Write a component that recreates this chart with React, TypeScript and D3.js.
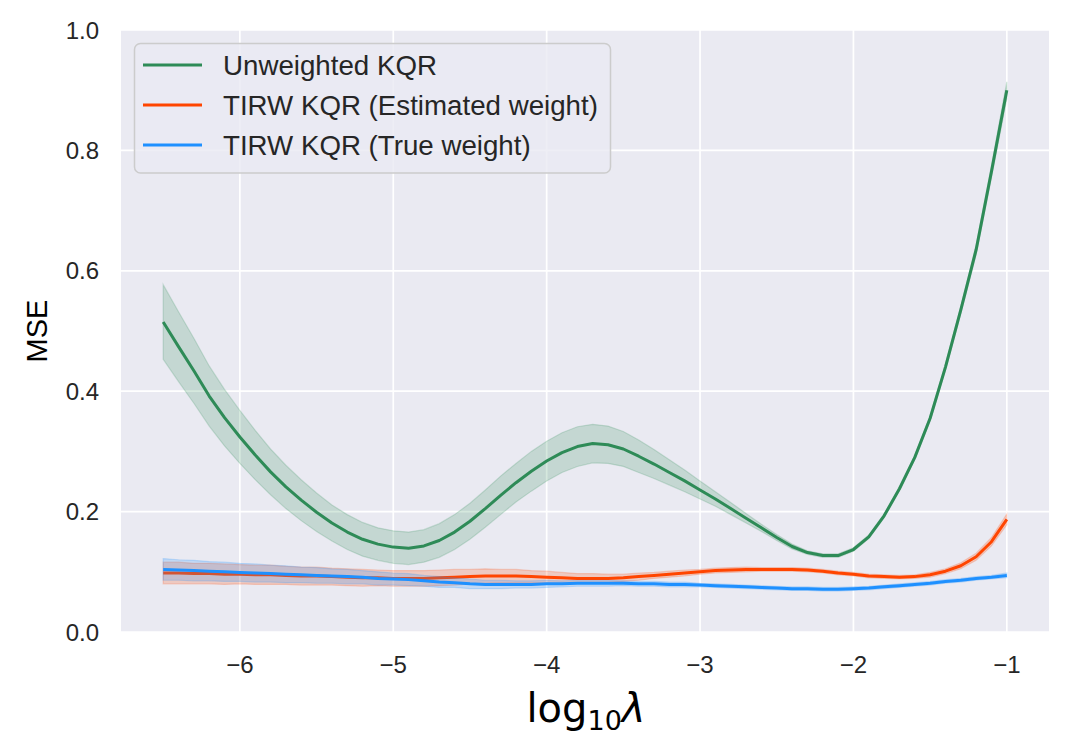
import React from "react";
import * as d3 from "d3";

const logLambda = [
  -6.5, -6.4, -6.3, -6.2, -6.1, -6.0, -5.9, -5.8, -5.7, -5.6,
  -5.5, -5.4, -5.3, -5.2, -5.1, -5.0, -4.9, -4.8, -4.7, -4.6,
  -4.5, -4.4, -4.3, -4.2, -4.1, -4.0, -3.9, -3.8, -3.7, -3.6,
  -3.5, -3.4, -3.3, -3.2, -3.1, -3.0, -2.9, -2.8, -2.7, -2.6,
  -2.5, -2.4, -2.3, -2.2, -2.1, -2.0, -1.9, -1.8, -1.7, -1.6,
  -1.5, -1.4, -1.3, -1.2, -1.1, -1.0,
];

const unweightedMean = [
  0.515, 0.474, 0.434, 0.392, 0.356, 0.324, 0.294, 0.266, 0.241, 0.219,
  0.199, 0.181, 0.166, 0.154, 0.146, 0.141, 0.139, 0.143, 0.152, 0.166,
  0.184, 0.205, 0.227, 0.248, 0.267, 0.284, 0.298, 0.308, 0.313, 0.311,
  0.304, 0.292, 0.279, 0.265, 0.251, 0.236, 0.221, 0.205, 0.189, 0.173,
  0.157, 0.142, 0.132, 0.127, 0.127, 0.137, 0.158, 0.193, 0.238, 0.29,
  0.355, 0.44, 0.535, 0.635, 0.765, 0.9,
];
const unweightedSpread = [
  0.062, 0.058, 0.054, 0.05, 0.047, 0.044, 0.041, 0.038, 0.036, 0.034,
  0.032, 0.03, 0.029, 0.028, 0.027, 0.027, 0.027, 0.027, 0.028, 0.029,
  0.03, 0.031, 0.032, 0.032, 0.033, 0.033, 0.033, 0.033, 0.032, 0.031,
  0.029, 0.027, 0.024, 0.021, 0.018, 0.015, 0.012, 0.01, 0.008, 0.006,
  0.005, 0.004, 0.003, 0.003, 0.003, 0.003, 0.003, 0.003, 0.003, 0.003,
  0.004, 0.005, 0.006, 0.008, 0.01, 0.014,
];

const estimatedMean = [
  0.098, 0.098, 0.097, 0.097, 0.096, 0.096, 0.095, 0.095, 0.094, 0.093,
  0.093, 0.092, 0.091, 0.09, 0.09, 0.089, 0.089, 0.089, 0.09, 0.091,
  0.092, 0.093, 0.093, 0.093, 0.092, 0.091, 0.09, 0.089, 0.089, 0.089,
  0.09, 0.092, 0.094, 0.096, 0.098, 0.1, 0.102, 0.103, 0.104, 0.104,
  0.104, 0.104, 0.103, 0.101, 0.098, 0.096, 0.093, 0.092, 0.091, 0.092,
  0.095, 0.101, 0.11, 0.125, 0.15, 0.187,
];
const estimatedSpread = [
  0.018, 0.018, 0.017, 0.017, 0.017, 0.016, 0.016, 0.016, 0.015, 0.015,
  0.015, 0.014, 0.014, 0.014, 0.013, 0.013, 0.013, 0.013, 0.013, 0.013,
  0.012, 0.012, 0.011, 0.011, 0.01, 0.01, 0.009, 0.008, 0.008, 0.007,
  0.006, 0.006, 0.005, 0.005, 0.005, 0.004, 0.004, 0.004, 0.004, 0.003,
  0.003, 0.003, 0.003, 0.003, 0.003, 0.003, 0.003, 0.003, 0.003, 0.003,
  0.004, 0.004, 0.005, 0.006, 0.007, 0.009,
];

const trueMean = [
  0.104, 0.103, 0.102, 0.101, 0.1, 0.099, 0.098, 0.097, 0.096, 0.095,
  0.094, 0.093, 0.092, 0.091, 0.089, 0.088, 0.087, 0.085, 0.083, 0.082,
  0.08, 0.079, 0.079, 0.079, 0.079, 0.08, 0.08, 0.081, 0.081, 0.081,
  0.081, 0.08, 0.08, 0.079, 0.079, 0.078, 0.077, 0.076, 0.075, 0.074,
  0.073, 0.072, 0.072, 0.071, 0.071, 0.072, 0.073, 0.075, 0.077, 0.079,
  0.081, 0.084, 0.086, 0.089, 0.091, 0.094,
];
const trueSpread = [
  0.018, 0.017, 0.017, 0.016, 0.016, 0.015, 0.015, 0.014, 0.014, 0.013,
  0.013, 0.012, 0.012, 0.011, 0.011, 0.01, 0.01, 0.009, 0.009, 0.008,
  0.008, 0.007, 0.007, 0.006, 0.006, 0.006, 0.005, 0.005, 0.005, 0.005,
  0.004, 0.004, 0.004, 0.004, 0.004, 0.003, 0.003, 0.003, 0.003, 0.003,
  0.003, 0.003, 0.003, 0.003, 0.003, 0.003, 0.003, 0.003, 0.003, 0.003,
  0.003, 0.003, 0.003, 0.003, 0.003, 0.004,
];

const seriesNames = [
  "Unweighted KQR",
  "TIRW KQR (Estimated weight)",
  "TIRW KQR (True weight)",
];
const seriesColors = ["#2e8b57", "#ff4500", "#1e90ff"];

const xTicks = [-6, -5, -4, -3, -2, -1];
const yTicks = [0.0, 0.2, 0.4, 0.6, 0.8, 1.0];

const W = 1070;
const H = 754;
const plot = { left: 121, right: 1049, top: 30, bottom: 632 };
const FONT = "'Liberation Sans', Arial, sans-serif";
const TEXT = "#262626";

export default function App() {
  const x = d3.scaleLinear().domain([-6.775, -0.725]).range([plot.left, plot.right]);
  const y = d3.scaleLinear().domain([0, 1]).range([plot.bottom, plot.top]);

  const series = [
    { mean: unweightedMean, spread: unweightedSpread },
    { mean: estimatedMean, spread: estimatedSpread },
    { mean: trueMean, spread: trueSpread },
  ];

  const line = d3
    .line<number>()
    .x((_, i) => x(logLambda[i]))
    .y((d) => y(d));

  const areaFor = (mean: number[], spread: number[]) =>
    d3
      .area<number>()
      .x((_, i) => x(logLambda[i]))
      .y0((d, i) => y(d - spread[i]))
      .y1((d, i) => y(d + spread[i]))(mean) || "";

  const fmtX = (v: number) => (v < 0 ? "\u2212" + Math.abs(v) : String(v));

  const legendRows = [65, 105, 145];

  return (
    <svg
      width={W}
      height={H}
      style={{ position: "absolute", left: 0, top: 0, background: "#ffffff" }}
    >
      <rect
        x={plot.left}
        y={plot.top}
        width={plot.right - plot.left}
        height={plot.bottom - plot.top}
        fill="#eaeaf2"
      />
      {xTicks.map((t) => (
        <line
          key={"gx" + t}
          x1={x(t)}
          x2={x(t)}
          y1={plot.top}
          y2={plot.bottom}
          stroke="#ffffff"
          strokeWidth={1.7}
        />
      ))}
      {yTicks.map((t) => (
        <line
          key={"gy" + t}
          x1={plot.left}
          x2={plot.right}
          y1={y(t)}
          y2={y(t)}
          stroke="#ffffff"
          strokeWidth={1.7}
        />
      ))}

      {series.map((s, k) => (
        <g key={"s" + k}>
          <path
            d={areaFor(s.mean, s.spread)}
            fill={seriesColors[k]}
            fillOpacity={0.2}
            stroke={seriesColors[k]}
            strokeOpacity={0.2}
            strokeWidth={1.2}
          />
          <path
            d={line(s.mean) || ""}
            fill="none"
            stroke={seriesColors[k]}
            strokeWidth={3}
            strokeLinejoin="round"
          />
        </g>
      ))}

      {xTicks.map((t) => (
        <text
          key={"tx" + t}
          x={x(t)}
          y={673}
          textAnchor="middle"
          fontFamily={FONT}
          fontSize={24}
          fill={TEXT}
        >
          {fmtX(t)}
        </text>
      ))}
      {yTicks.map((t) => (
        <text
          key={"ty" + t}
          x={99}
          y={y(t) + 8.6}
          textAnchor="end"
          fontFamily={FONT}
          fontSize={24}
          fill={TEXT}
        >
          {t.toFixed(1)}
        </text>
      ))}

      <text
        x={586}
        y={722}
        textAnchor="middle"
        fontFamily="'DejaVu Sans', sans-serif"
        fontSize={40}
        fill="#000000"
      >
        log
        <tspan fontSize={27} dy={8}>
          10
        </tspan>
        <tspan dy={-8} fontStyle="italic">
          λ
        </tspan>
      </text>
      <text
        transform={`translate(47, ${(plot.top + plot.bottom) / 2}) rotate(-90)`}
        textAnchor="middle"
        fontFamily={FONT}
        fontSize={29}
        fill="#000000"
      >
        MSE
      </text>

      <rect
        x={134.5}
        y={43.5}
        width={476}
        height={129.5}
        rx={6}
        ry={6}
        fill="#eaeaf2"
        fillOpacity={0.8}
        stroke="#cccccc"
        strokeWidth={1.5}
      />
      {seriesNames.map((name, k) => (
        <g key={"lg" + k}>
          <line
            x1={143}
            x2={202}
            y1={legendRows[k]}
            y2={legendRows[k]}
            stroke={seriesColors[k]}
            strokeWidth={3}
          />
          <text
            x={223}
            y={legendRows[k] + 10}
            fontFamily={FONT}
            fontSize={27.7}
            fill={TEXT}
          >
            {name}
          </text>
        </g>
      ))}
    </svg>
  );
}
